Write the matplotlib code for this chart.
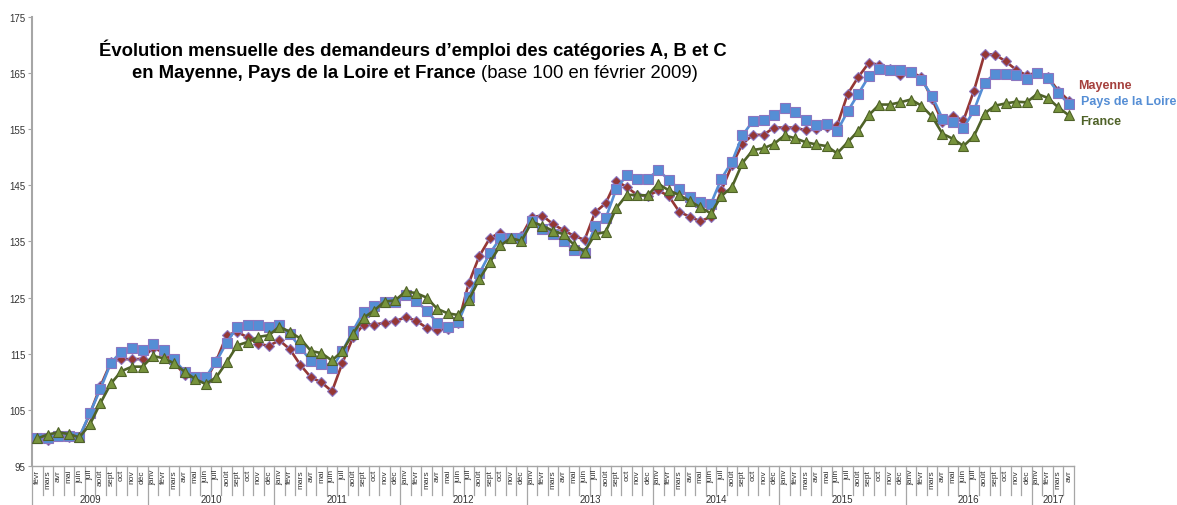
import matplotlib
matplotlib.use("Agg")
import matplotlib.pyplot as plt

plt.rcParams["font.family"] = ["Liberation Sans", "DejaVu Sans"]

# --- data -----------------------------------------------------------------
month_names = ["janv", "févr", "mars", "avr", "mai", "juin", "juil",
               "août", "sept", "oct", "nov", "déc"]
years = ["2009", "2010", "2011", "2012", "2013", "2014", "2015", "2016", "2017"]
# months per year shown (févr 2009 -> avr 2017)
months_per_year = [11, 12, 12, 12, 12, 12, 12, 12, 4]

mayenne = [100.0, 99.6, 100.5, 100.2, 100.1, 104.3, 109.2, 113.5, 114.1, 114.0, 114.1,
           116.1, 115.2, 113.4, 111.3, 110.5, 110.2, 113.7, 118.3, 118.9, 117.9, 116.8, 116.4,
           117.4, 115.8, 113.0, 110.8, 109.9, 108.3, 113.4, 117.9, 120.2, 120.2, 120.5, 120.8,
           121.5, 120.9, 119.6, 119.3, 119.4, 120.5, 127.6, 132.4, 135.6, 136.6, 135.7, 136.0,
           139.4, 139.6, 138.1, 137.0, 136.0, 135.3, 140.2, 141.8, 145.8, 144.7, 143.3, 143.1,
           144.1, 143.1, 140.3, 139.4, 138.6, 139.4, 144.1, 148.6, 152.4, 154.0, 154.0, 155.3,
           155.3, 155.3, 154.8, 155.1, 155.4, 155.7, 161.3, 164.3, 166.8, 166.5, 165.8, 164.6,
           165.2, 164.3, 160.4, 156.3, 157.3, 156.6, 161.9, 168.4, 168.3, 167.1, 165.6, 164.6,
           165.1, 164.3, 161.9, 160.1]

pays_loire = [100.0, 100.0, 100.3, 100.4, 100.2, 104.4, 108.7, 113.4, 115.4, 116.0, 115.7,
              116.7, 115.7, 114.0, 111.8, 110.9, 110.8, 113.6, 117.0, 119.8, 120.2, 120.1, 119.8,
              120.2, 118.5, 116.1, 113.7, 113.2, 112.4, 115.5, 119.1, 122.5, 123.5, 124.3, 124.3,
              125.4, 124.4, 122.7, 120.5, 119.7, 120.6, 125.2, 129.3, 132.9, 135.6, 135.7, 135.6,
              138.7, 137.2, 136.3, 135.0, 133.5, 132.9, 137.7, 139.1, 144.3, 146.8, 146.1, 146.2,
              147.7, 146.0, 144.3, 143.0, 142.0, 141.7, 146.2, 149.2, 153.9, 156.5, 156.7, 157.6,
              158.7, 158.1, 156.6, 155.7, 155.9, 154.7, 158.2, 161.3, 164.4, 165.8, 165.6, 165.6,
              165.2, 163.8, 161.0, 156.9, 156.3, 155.2, 158.4, 163.3, 164.9, 164.9, 164.6, 163.9,
              165.0, 164.1, 161.5, 159.5]

france = [99.9, 100.6, 101.0, 100.7, 100.1, 102.4, 106.2, 109.7, 111.9, 112.7, 112.7,
          114.6, 114.2, 113.3, 111.8, 110.5, 109.6, 110.8, 113.5, 116.5, 117.1, 118.0, 118.3,
          119.8, 118.9, 117.7, 115.5, 115.1, 113.8, 115.5, 118.6, 121.4, 122.7, 124.3, 124.5,
          126.1, 125.8, 125.0, 123.0, 122.2, 121.9, 124.6, 128.3, 131.3, 134.3, 135.6, 135.1,
          138.5, 137.8, 136.9, 136.3, 134.4, 133.2, 136.3, 136.7, 140.9, 143.3, 143.3, 143.2,
          145.3, 144.1, 143.3, 142.2, 141.1, 140.0, 143.1, 144.7, 149.0, 151.3, 151.6, 152.4,
          153.9, 153.4, 152.7, 152.3, 152.0, 150.7, 152.7, 154.7, 157.5, 159.4, 159.4, 159.8,
          160.3, 159.2, 157.3, 154.2, 153.3, 152.0, 153.8, 157.8, 159.2, 159.6, 159.9, 159.8,
          161.3, 160.6, 158.9, 157.5]

# month labels for each point
labels = month_names[1:] + month_names * 7 + month_names[:4]
x = list(range(len(labels)))

RED = "#953735"
BLUE = "#558ED5"
GREEN = "#77933C"
DKGREEN = "#4F6228"
EDGE = "#8B76C0"
GRID = "#A6A6A6"

fig = plt.figure(figsize=(11.77, 5.06), dpi=100)
ax = fig.add_axes([32 / 1177, 1 - 467 / 506, (1074 - 32) / 1177, (467 - 18) / 506])

ax.plot(x, mayenne, color=RED, lw=1.9, marker="D", ms=4.8,
        mfc=RED, mec=EDGE, mew=0.8, zorder=3)
ax.plot(x, pays_loire, color=BLUE, lw=1.9, marker="s", ms=6.5,
        mfc=BLUE, mec=EDGE, mew=0.8, zorder=4)
ax.plot(x, france, color=DKGREEN, lw=1.9, marker="^", ms=7.2,
        mfc=GREEN, mec=DKGREEN, mew=0.8, zorder=5)

ax.set_xlim(-0.5, len(x) - 0.5)
ax.set_ylim(95, 175)
ax.set_yticks(range(95, 176, 10))
ax.tick_params(axis="y", labelsize=7, length=3, width=0.8, color=GRID,
               labelcolor="#333333", pad=1.5)
ax.set_xticks([])
for s in ["top", "right", "bottom"]:
    ax.spines[s].set_visible(False)
ax.spines["left"].set_color(GRID)
ax.spines["left"].set_linewidth(1.5)

# category axis drawn by hand (two levels: months / years)
trans = ax.get_xaxis_transform()
px = 1 / 449.0
ax.plot([-0.5, len(x) - 0.5], [0, 0], color=GRID, lw=1.0, transform=trans, clip_on=False)
for i, lab in enumerate(labels):
    ax.text(i, -3 * px, lab, rotation=90, ha="center", va="top", fontsize=6,
            color="#333333", transform=trans)

bounds = [-0.5]
for n in months_per_year:
    bounds.append(bounds[-1] + n)
for i in range(len(x) + 1):
    b = i - 0.5
    depth = 45 if b in bounds else 29
    ax.plot([b, b], [0, -depth * px], color=GRID, lw=0.9, transform=trans, clip_on=False)
for k, yr in enumerate(years):
    ax.text((bounds[k] + bounds[k + 1]) / 2, -38.3 * px, yr, ha="center", va="bottom",
            fontsize=7, color="#333333", transform=trans)

# series labels at right end
ax.text(1078 / 1177, 1 - 86 / 506, "Mayenne", color="#A5403D", fontsize=9,
        fontweight="bold", transform=fig.transFigure, va="center")
ax.text(1081 / 1177, 1 - 102 / 506, "Pays de la Loire", color=BLUE, fontsize=9,
        fontweight="bold", transform=fig.transFigure, va="center")
ax.text(1080 / 1177, 1 - 122 / 506, "France", color=DKGREEN, fontsize=9,
        fontweight="bold", transform=fig.transFigure, va="center")

# title
fig.text(413 / 1177, 1 - 50 / 506,
         "Évolution mensuelle des demandeurs d’emploi des catégories A, B et C",
         ha="center", va="center", fontsize=13.3, fontweight="bold")
fig.text(476 / 1177, 1 - 74 / 506, "en Mayenne, Pays de la Loire et France",
         ha="right", va="center", fontsize=13.3, fontweight="bold")
fig.text(481 / 1177, 1 - 74 / 506, "(base 100 en février 2009)",
         ha="left", va="center", fontsize=13.3)

fig.savefig("out.png", dpi=100)
